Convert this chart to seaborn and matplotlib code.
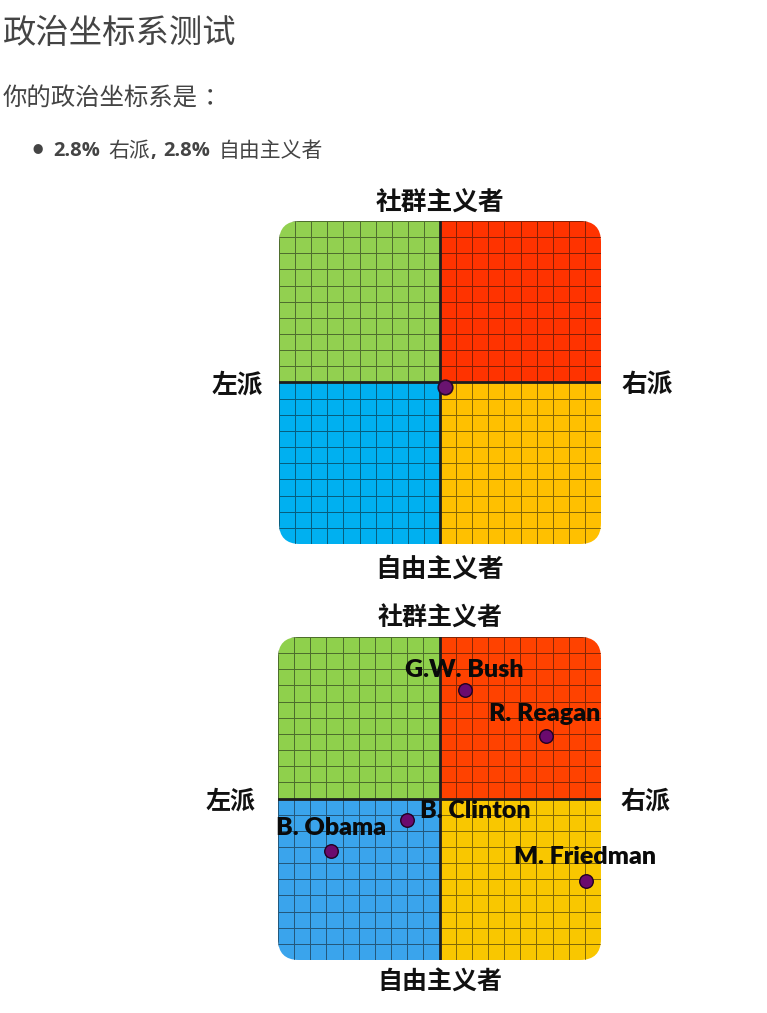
import numpy as np
import matplotlib
matplotlib.use("Agg")
import matplotlib.pyplot as plt
from matplotlib.colors import ListedColormap
from matplotlib.patches import FancyBboxPatch
import seaborn as sns

# ---------------- data ----------------
title_text = "政治坐标系测试"
subtitle_text = "你的政治坐标系是"
subtitle_colon = "："
result_econ_pct = 2.8       # 右派
result_social_pct = 2.8     # 自由主义者 (libertarian -> down)
axis_top = "社群主义者"
axis_bottom = "自由主义者"
axis_left = "左派"
axis_right = "右派"

# quadrant colours: top-left, top-right, bottom-left, bottom-right
quad_colors_1 = ["#92D050", "#FF3300", "#00B0F0", "#FFC000"]
quad_colors_2 = ["#8FD04C", "#FF4200", "#3AA4EC", "#F9C700"]

# user position on -10..10 scales
user_econ = [0.28]
user_social = [-0.28]

# reference politicians (econ: left<0<right, social: libertarian<0<authoritarian)
leaders = ["G.W. Bush", "R. Reagan", "B. Clinton", "B. Obama", "M. Friedman"]
leader_econ = [1.6, 6.6, -2.0, -6.7, 9.1]
leader_social = [6.7, 3.85, -1.35, -3.25, -5.1]
# label offsets in pixels (dx right, dy up)
label_offsets = [(-1, 20), (-1, 22), (68, 9), (0, 23), (-1, 24)]

# ---------------- figure ----------------
W, H = 767, 1013
DPI = 100
sns.set_theme(style="white")
plt.rcParams['font.family'] = ['Noto Sans CJK SC', 'DejaVu Sans']
fig = plt.figure(figsize=(W / DPI, H / DPI), dpi=DPI)
fig.patch.set_facecolor("white")


def fx(px):
    return px / W


def fy(py):
    return 1 - py / H


CJK = ['Noto Sans CJK SC', 'DejaVu Sans']
CJK_TC = ['Noto Sans CJK TC', 'DejaVu Sans']
LAT = ['Open Sans', 'DejaVu Sans']
GREY = "#444444"

fig.text(fx(3), fy(33), title_text, fontsize=24, color=GREY,
         family=CJK, va="center", ha="left")
fig.text(fx(3), fy(98), subtitle_text, fontsize=17.6, color=GREY,
         family=CJK, va="center", ha="left")
fig.text(fx(198), fy(98), subtitle_colon, fontsize=17.6, color=GREY,
         family=CJK_TC, va="center", ha="left")

# bullet line
fig.text(fx(38), fy(150), "●", fontsize=7.5, color=GREY, family=CJK,
         ha="center", va="center")
by = fy(151)
BS = 14.5
fig.text(fx(53), by, f"{result_econ_pct}%", fontsize=BS, weight="bold",
         color=GREY, family=LAT, va="center")
fig.text(fx(108), by, axis_right, fontsize=15, color=GREY,
         family=CJK, va="center")
fig.text(fx(150), by, ",", fontsize=BS, weight="bold", color=GREY,
         family=LAT, va="center")
fig.text(fx(163), by, f"{result_social_pct}%", fontsize=BS, weight="bold",
         color=GREY, family=LAT, va="center")
fig.text(fx(219), by, axis_bottom, fontsize=15, color=GREY,
         family=CJK, va="center")


def quad_matrix():
    m = np.zeros((20, 20))
    m[:10, :10] = 0
    m[:10, 10:] = 1
    m[10:, :10] = 2
    m[10:, 10:] = 3
    return m


def draw_compass(rect_px, colors):
    left, top, right, bottom = rect_px
    ax = fig.add_axes([fx(left), fy(bottom), fx(right - left),
                       (bottom - top) / H])
    sns.heatmap(quad_matrix(), ax=ax, cmap=ListedColormap(colors),
                vmin=-0.5, vmax=3.5, cbar=False, linewidths=0.7,
                linecolor=(0.05, 0.05, 0.05, 0.5), xticklabels=False,
                yticklabels=False)
    ax.set_xlim(0, 20)
    ax.set_ylim(20, 0)
    ax.axis("off")
    clip = FancyBboxPatch((0, 0), 20, 20,
                          boxstyle="round,pad=0,rounding_size=1.3",
                          transform=ax.transData, facecolor="none",
                          edgecolor="none")
    ax.add_patch(clip)
    for c in ax.collections:
        c.set_clip_path(clip)
    l1 = ax.axvline(10, color="#1e1e1e", lw=2.0, zorder=3)
    l2 = ax.axhline(10, color="#1e1e1e", lw=2.0, zorder=3)
    l1.set_clip_path(clip)
    l2.set_clip_path(clip)
    return ax


def axis_labels(cx, top_y, bottom_y, left_x, right_x, mid_y, size):
    kw = dict(fontsize=size, weight="bold", color="#111111", family=CJK,
              ha="center", va="center")
    fig.text(fx(cx), fy(top_y), axis_top, **kw)
    fig.text(fx(cx), fy(bottom_y), axis_bottom, **kw)
    fig.text(fx(left_x), fy(mid_y), axis_left, **kw)
    fig.text(fx(right_x), fy(mid_y), axis_right, **kw)


# ---- chart 1 ----
ax1 = draw_compass((279, 221, 601, 544), quad_colors_1)
sns.scatterplot(x=[e + 10 for e in user_econ],
                y=[10 - s for s in user_social], ax=ax1, s=110,
                color="#6A1470", edgecolor="#2a082c", linewidth=1.2,
                zorder=5, legend=False)
ax1.set_xlim(0, 20)
ax1.set_ylim(20, 0)
axis_labels(440, 203, 569, 237, 647, 385, 18.5)

# ---- chart 2 ----
ax2 = draw_compass((278, 637, 601, 960), quad_colors_2)
px = [e + 10 for e in leader_econ]
py = [10 - s for s in leader_social]
sns.scatterplot(x=px, y=py, ax=ax2, s=95, color="#6B0A6E",
                edgecolor="#220022", linewidth=1.0, zorder=5, legend=False)
ax2.set_xlim(0, 20)
ax2.set_ylim(20, 0)
for name, x, y, (dx, dy) in zip(leaders, px, py, label_offsets):
    ax2.annotate(name, xy=(x, y), xytext=(dx * 0.72, dy * 0.72),
                 textcoords="offset points", ha="center", va="center",
                 fontsize=18, weight="heavy", color="#0a0a0a",
                 family=['Lato', 'DejaVu Sans'], zorder=6,
                 annotation_clip=False)
axis_labels(440, 619, 983, 231, 645, 802, 18.0)

fig.savefig("out.png", dpi=DPI, facecolor="white")
